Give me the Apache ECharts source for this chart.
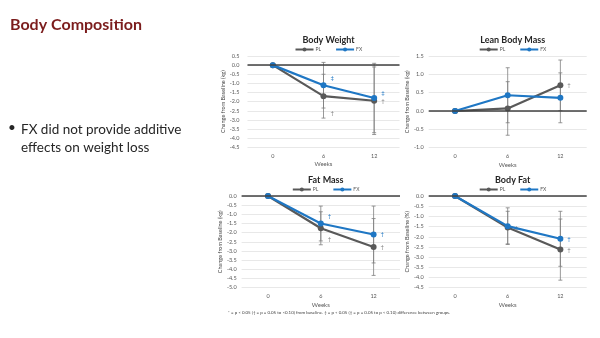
<!DOCTYPE html>
<html><head><meta charset="utf-8">
<script src="https://cdn.jsdelivr.net/npm/echarts@6/dist/echarts.min.js"></script>
<style>html,body{margin:0;padding:0;background:#fff}#c{width:600px;height:338px}</style>
</head><body><div id="c"></div>
<script>
// ---- data ----
const weeks = ['0', '6', '12'];
const panelTitles = ['Body Weight', 'Lean Body Mass', 'Fat Mass', 'Body Fat'];
const yNames = ['Change from Baseline (kg)', 'Change from Baseline (kg)', 'Change from Baseline (kg)', 'Change from Baseline (%)'];
const yMin = [-4.5, -1.0, -5.0, -4.5];
const yMax = [0.5, 1.5, 0.0, 0.0];
const bwPL = [0, -1.7, -1.95];
const bwFX = [0, -1.1, -1.8];
const bwPLErr = [0, 1.2, 1.85];
const bwFXErr = [0, 1.25, 1.9];
const lbmPL = [0, 0.07, 0.7];
const lbmFX = [0, 0.43, 0.36];
const lbmPLErr = [0, 0.73, 0.69];
const lbmFXErr = [0, 0.75, 0.68];
const fmPL = [0, -1.76, -2.78];
const fmFX = [0, -1.5, -2.1];
const fmPLErr = [0, 0.9, 1.55];
const fmFXErr = [0, 0.95, 1.55];
const bfPL = [0, -1.55, -2.63];
const bfFX = [0, -1.48, -2.1];
const bfPLErr = [0, 0.8, 1.5];
const bfFXErr = [0, 0.9, 1.35];
const bwPLMarks = ['', '†', '†'];
const bwFXMarks = ['', '‡', '‡'];
const lbmPLMarks = ['', '', '†'];
const lbmFXMarks = ['', '', ''];
const fmPLMarks = ['', '†', '†'];
const fmFXMarks = ['', '†', '†'];
const bfPLMarks = ['', '‡', '†'];
const bfFXMarks = ['', '', '†'];
const mainTitle = 'Body Composition';
const bulletText = 'FX did not provide additive\neffects on weight loss';
const footnote = '* = p < 0.05 († = p = 0.05 to <0.10) from baseline. ‡ = p < 0.05 (‡ = p = 0.05 to p < 0.10) difference between groups.';

// ---- layout / style ----
const PL_COLOR = '#595959', FX_COLOR = '#1f77c4';
const SYM = 6;
const grids = [
  {left: 247.5, top: 56, width: 152, height: 91.3, labelMargin: 8, nameGap: 21},
  {left: 428.7, top: 56, width: 158, height: 91.7, labelMargin: 5, nameGap: 17},
  {left: 241.6, top: 196, width: 158.4, height: 91.7, labelMargin: 5, nameGap: 17},
  {left: 428.7, top: 196, width: 158, height: 91.7, labelMargin: 5, nameGap: 17}
];
const plSets = [[bwPL, bwPLErr, bwPLMarks], [lbmPL, lbmPLErr, lbmPLMarks], [fmPL, fmPLErr, fmPLMarks], [bfPL, bfPLErr, bfPLMarks]];
const fxSets = [[bwFX, bwFXErr, bwFXMarks], [lbmFX, lbmFXErr, lbmFXMarks], [fmFX, fmFXErr, fmFXMarks], [bfFX, bfFXErr, bfFXMarks]];
// vertical label offsets for annotations [pl, fx] per panel per point
const markDy = [
  [[0, 17, 0], [0, -7, -5]],
  [[0, 0, 0], [0, 0, 0]],
  [[0, 11, 0], [0, -7, 0]],
  [[0, 0, 0], [0, 0, 0]]
];
const FONT = 'Lato, "Open Sans", sans-serif';

const option = {
  animation: false,
  backgroundColor: '#fff',
  title: [],
  legend: [],
  grid: [], xAxis: [], yAxis: [], series: [],
  graphic: [
    {type: 'text', left: 8, top: 121, style: {text: '•', font: '13.5px ' + FONT, fill: '#262626'}},
    {type: 'text', left: 21, top: 121, style: {text: bulletText, font: '13.5px ' + FONT, fill: '#262626', lineHeight: 18}},
    {type: 'text', left: 228, top: 311, style: {text: footnote, font: '4.4px ' + FONT, fill: '#404040'}}
  ]
};
option.title.push({text: mainTitle, left: 5, top: 12, textStyle: {fontFamily: FONT, fontSize: 16, fontWeight: 'bold', color: '#7b1c1c'}});

function errSeries(i, vals, errs) {
  return {
    type: 'custom', xAxisIndex: i, yAxisIndex: i, z: 1, silent: true,
    data: vals.map((v, k) => [k, v - errs[k], v + errs[k]]).filter((d, k) => errs[k] > 0),
    renderItem: function (params, api) {
      const lo = api.coord([api.value(0), api.value(1)]);
      const hi = api.coord([api.value(0), api.value(2)]);
      const w = 2;
      const st = {stroke: '#7f7f7f', lineWidth: 0.8};
      return {type: 'group', children: [
        {type: 'line', shape: {x1: lo[0], y1: lo[1], x2: hi[0], y2: hi[1]}, style: st},
        {type: 'line', shape: {x1: lo[0] - w, y1: lo[1], x2: lo[0] + w, y2: lo[1]}, style: st},
        {type: 'line', shape: {x1: hi[0] - w, y1: hi[1], x2: hi[0] + w, y2: hi[1]}, style: st}
      ]};
    }
  };
}

grids.forEach((g, i) => {
  option.grid.push({left: g.left, top: g.top, width: g.width, height: g.height});
  const cx = g.left + g.width / 2;
  option.title.push({text: panelTitles[i], left: cx, top: g.top - 25, textAlign: 'center',
    textStyle: {fontFamily: FONT, fontSize: 9, fontWeight: 'bold', color: '#262626'}});
  option.legend.push({data: ['PL', 'FX'], left: cx - 34, top: g.top - 14, itemWidth: 18, itemHeight: 5,
    itemGap: 14, textStyle: {fontFamily: FONT, fontSize: 5, color: '#595959', padding: [0, 0, 0, -3]}});
  option.xAxis.push({type: 'category', gridIndex: i, data: weeks, boundaryGap: true,
    axisLine: {show: false}, axisTick: {show: false},
    axisLabel: {fontFamily: FONT, fontSize: 5.5, color: '#595959', margin: 6},
    name: 'Weeks', nameLocation: 'middle', nameGap: 14,
    nameTextStyle: {fontFamily: FONT, fontSize: 6, color: '#595959'}});
  option.yAxis.push({type: 'value', gridIndex: i, min: yMin[i], max: yMax[i], interval: 0.5,
    axisLine: {show: false}, axisTick: {show: false},
    axisLabel: {fontFamily: FONT, fontSize: 5.5, color: '#595959', margin: g.labelMargin, formatter: v => v.toFixed(1)},
    splitLine: {lineStyle: {color: '#d9d9d9', width: 0.6}},
    name: yNames[i], nameLocation: 'middle', nameGap: g.nameGap, nameRotate: 90,
    nameTextStyle: {fontFamily: FONT, fontSize: 5.5, color: '#404040'}});
  const [plv, ple, plm] = plSets[i];
  const [fxv, fxe, fxm] = fxSets[i];
  option.series.push(errSeries(i, plv, ple));
  option.series.push(errSeries(i, fxv, fxe));
  const mk = (vals, marks, color, dys) => vals.map((v, k) => marks[k] ? {value: v,
    label: {show: true, formatter: marks[k], position: [SYM + 4, SYM / 2 + dys[k]],
      align: 'left', verticalAlign: 'middle',
      fontFamily: FONT, fontSize: 6, color: color}} : v);
  option.series.push({name: 'PL', type: 'line', xAxisIndex: i, yAxisIndex: i, z: 3,
    data: mk(plv, plm, '#7f7f7f', markDy[i][0]), symbol: 'circle', symbolSize: SYM,
    labelLayout: {hideOverlap: false},
    lineStyle: {color: PL_COLOR, width: 2.2}, itemStyle: {color: PL_COLOR},
    markLine: {silent: true, symbol: 'none', label: {show: false},
      lineStyle: {color: '#404040', width: 1.6, type: 'solid'}, data: [{yAxis: 0}]}});
  option.series.push({name: 'FX', type: 'line', xAxisIndex: i, yAxisIndex: i, z: 4,
    data: mk(fxv, fxm, FX_COLOR, markDy[i][1]), symbol: 'circle', symbolSize: SYM,
    labelLayout: {hideOverlap: false},
    lineStyle: {color: FX_COLOR, width: 2.2}, itemStyle: {color: FX_COLOR}});
});

const chart = echarts.init(document.getElementById('c'), null, {renderer: 'canvas'});
chart.setOption(option);
</script>
</body></html>
